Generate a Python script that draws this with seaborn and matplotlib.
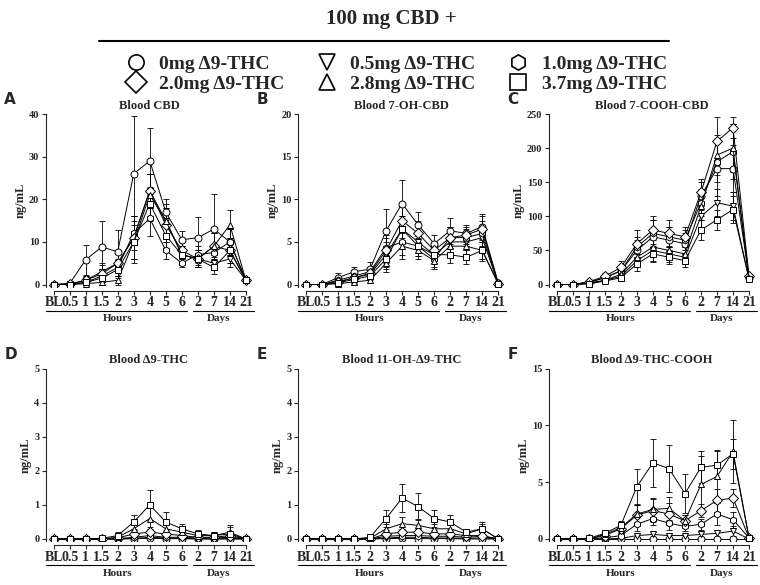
import numpy as np
import pandas as pd
import matplotlib
matplotlib.use("Agg")
import matplotlib.pyplot as plt
import seaborn as sns
from matplotlib.lines import Line2D

sns.set_style("ticks")
plt.rcParams['font.family'] = ['Liberation Serif', 'DejaVu Serif']
plt.rcParams['font.weight'] = 'bold'

timepoints = ["BL", "0.5", "1", "1.5", "2", "3", "4", "5", "6", "2", "7", "14", "21"]
doses = ["0mg Δ9-THC", "0.5mg Δ9-THC", "1.0mg Δ9-THC", "2.0mg Δ9-THC", "2.8mg Δ9-THC", "3.7mg Δ9-THC"]
markers = ["o", "v", "h", "D", "^", "s"]

titles = ["Blood CBD", "Blood 7-OH-CBD", "Blood 7-COOH-CBD",
          "Blood Δ9-THC", "Blood 11-OH-Δ9-THC", "Blood Δ9-THC-COOH"]
letters = ["A", "B", "C", "D", "E", "F"]
ymax = [40, 20, 250, 5, 5, 15]
ystep = [10, 5, 50, 1, 1, 5]

cbd_mean = [
    [0, 0.2, 5.8, 8.8, 7.7, 26, 29, 17, 10.5, 11, 13, 10, 1],
    [0, 0.1, 1, 3, 5, 11, 22, 15, 7, 6, 5, 6, 1],
    [0, 0.1, 0.5, 2, 4, 12, 15.5, 8, 5, 7, 7.5, 10, 1],
    [0, 0.1, 1, 2.5, 5, 11, 22, 14, 8, 6, 9, 8, 1],
    [0, 0, 0.2, 0.5, 1, 10, 21, 15, 7, 6, 9, 14, 1],
    [0, 0, 0.5, 1.5, 3.5, 10, 19, 11.5, 7, 6, 4, 8, 1],
]
cbd_err = [
    [0, 0.2, 3.5, 6, 5, 13.5, 7.8, 3, 2, 4.8, 8.3, 3, 0.3],
    [0, 0.1, 1, 2, 3, 5, 4, 3, 2, 2, 1.5, 2, 0.3],
    [0, 0.1, 0.5, 1.5, 2, 4, 4, 2, 1, 2, 2, 3, 0.3],
    [0, 0.1, 1, 2, 3, 5, 4, 4, 2, 2, 3, 3, 0.3],
    [0, 0, 0.2, 0.5, 1, 5, 5, 4, 2, 2, 3, 3.5, 0.3],
    [0, 0, 0.5, 1, 2, 4, 4, 3, 2, 1.5, 1.5, 3, 0.3],
]
oh_cbd_mean = [
    [0, 0, 0.8, 1.5, 1.8, 6.3, 9.5, 7, 4.8, 6.3, 6, 6.8, 0.2],
    [0, 0, 0.3, 0.8, 1.2, 3.5, 6.5, 5, 3.5, 5, 5, 5.5, 0.1],
    [0, 0, 0.5, 1, 1.5, 4.3, 5, 4.5, 3, 5.5, 5.5, 6, 0.1],
    [0, 0, 0.3, 0.8, 1.3, 4, 7.5, 6, 4, 5.5, 5.8, 6.5, 0.1],
    [0, 0, 0.1, 0.3, 0.5, 2.5, 4.5, 4, 2.8, 4.5, 4.5, 4, 0.1],
    [0, 0, 0.2, 0.6, 1, 3, 6.5, 4.5, 3.5, 3.5, 3.2, 4, 0.1],
]
oh_cbd_err = [
    [0, 0, 0.5, 0.6, 0.8, 2.6, 2.8, 1.5, 1, 1.5, 1, 1.5, 0.1],
    [0, 0, 0.2, 0.5, 0.6, 1.5, 1.5, 1.2, 1, 1.2, 1, 1.5, 0.1],
    [0, 0, 0.3, 0.5, 0.6, 1.5, 1.5, 1.2, 1, 1.2, 1, 1.5, 0.1],
    [0, 0, 0.2, 0.5, 0.6, 1.5, 2, 1.5, 1, 1.2, 1, 1.5, 0.1],
    [0, 0, 0.1, 0.2, 0.3, 1, 1.5, 1, 1, 1, 1, 1, 0.1],
    [0, 0, 0.1, 0.4, 0.5, 1.2, 1.5, 1.2, 1, 1, 0.8, 1.2, 0.1],
]
cooh_cbd_mean = [
    [0, 0, 3, 10, 20, 50, 70, 65, 60, 130, 170, 170, 10],
    [0, 0, 2, 6, 12, 35, 50, 45, 40, 100, 120, 115, 8],
    [0, 0, 3, 10, 20, 55, 75, 70, 65, 120, 180, 195, 10],
    [0, 0, 4, 12, 25, 60, 80, 75, 70, 135, 210, 230, 12],
    [0, 0, 2, 6, 15, 40, 55, 50, 45, 115, 190, 200, 10],
    [0, 0, 1, 5, 10, 30, 45, 40, 35, 80, 95, 110, 8],
]
cooh_cbd_err = [
    [0, 0, 2, 5, 8, 15, 25, 20, 15, 20, 40, 35, 3],
    [0, 0, 1, 3, 5, 10, 15, 12, 10, 15, 20, 20, 3],
    [0, 0, 2, 5, 8, 15, 20, 15, 15, 20, 30, 40, 3],
    [0, 0, 2, 5, 10, 20, 20, 20, 15, 20, 35, 15, 3],
    [0, 0, 1, 3, 6, 12, 15, 12, 10, 20, 30, 35, 3],
    [0, 0, 1, 3, 5, 10, 12, 10, 10, 15, 15, 20, 3],
]
thc_mean = [
    [0, 0, 0, 0, 0, 0.01, 0.02, 0.01, 0.01, 0, 0, 0, 0],
    [0, 0, 0, 0, 0, 0.02, 0.05, 0.03, 0.02, 0.01, 0.01, 0.01, 0],
    [0, 0, 0, 0, 0.01, 0.05, 0.1, 0.05, 0.05, 0.03, 0.03, 0.05, 0],
    [0, 0, 0, 0, 0.03, 0.15, 0.2, 0.15, 0.1, 0.05, 0.05, 0.1, 0],
    [0, 0, 0, 0, 0.05, 0.3, 0.6, 0.3, 0.2, 0.1, 0.1, 0.2, 0],
    [0, 0, 0, 0.02, 0.1, 0.5, 1.0, 0.5, 0.3, 0.15, 0.1, 0.15, 0],
]
thc_err = [
    [0, 0, 0, 0, 0, 0.01, 0.02, 0.01, 0.01, 0, 0, 0, 0],
    [0, 0, 0, 0, 0, 0.02, 0.05, 0.03, 0.02, 0.01, 0.01, 0.01, 0],
    [0, 0, 0, 0, 0.01, 0.05, 0.1, 0.05, 0.05, 0.03, 0.03, 0.05, 0],
    [0, 0, 0, 0, 0.03, 0.1, 0.15, 0.1, 0.1, 0.05, 0.05, 0.1, 0],
    [0, 0, 0, 0, 0.05, 0.2, 0.3, 0.2, 0.1, 0.1, 0.1, 0.2, 0],
    [0, 0, 0, 0.02, 0.1, 0.2, 0.45, 0.3, 0.15, 0.1, 0.1, 0.2, 0],
]
oh_thc_mean = [
    [0, 0, 0, 0, 0, 0.01, 0.02, 0.01, 0.01, 0.01, 0, 0, 0],
    [0, 0, 0, 0, 0, 0.03, 0.05, 0.05, 0.03, 0.03, 0.02, 0.03, 0],
    [0, 0, 0, 0, 0, 0.08, 0.1, 0.1, 0.08, 0.08, 0.05, 0.08, 0],
    [0, 0, 0, 0, 0, 0.15, 0.2, 0.2, 0.15, 0.15, 0.1, 0.1, 0],
    [0, 0, 0, 0, 0.02, 0.3, 0.45, 0.4, 0.3, 0.3, 0.15, 0.3, 0],
    [0, 0, 0, 0, 0.05, 0.6, 1.2, 0.95, 0.6, 0.5, 0.2, 0.3, 0],
]
oh_thc_err = [
    [0, 0, 0, 0, 0, 0.01, 0.02, 0.01, 0.01, 0.01, 0, 0, 0],
    [0, 0, 0, 0, 0, 0.02, 0.03, 0.03, 0.02, 0.02, 0.02, 0.02, 0],
    [0, 0, 0, 0, 0, 0.05, 0.05, 0.05, 0.05, 0.05, 0.03, 0.05, 0],
    [0, 0, 0, 0, 0, 0.1, 0.1, 0.1, 0.1, 0.1, 0.05, 0.1, 0],
    [0, 0, 0, 0, 0.02, 0.15, 0.2, 0.2, 0.15, 0.15, 0.1, 0.15, 0],
    [0, 0, 0, 0, 0.05, 0.25, 0.4, 0.4, 0.25, 0.2, 0.1, 0.2, 0],
]
thc_cooh_mean = [
    [0, 0, 0, 0, 0, 0, 0, 0, 0, 0, 0, 0, 0],
    [0, 0, 0, 0, 0.05, 0.3, 0.4, 0.3, 0.3, 0.4, 0.5, 0.7, 0],
    [0, 0, 0, 0.1, 0.3, 1.3, 1.8, 1.4, 1.1, 1.3, 2.2, 1.7, 0.1],
    [0, 0, 0, 0.3, 0.9, 2.1, 2.5, 2.2, 1.6, 2.5, 3.4, 3.6, 0.1],
    [0, 0, 0, 0.4, 1.0, 2.2, 2.6, 2.7, 1.6, 4.8, 5.5, 7.7, 0.1],
    [0, 0, 0.05, 0.5, 1.2, 4.6, 6.7, 6.2, 4.0, 6.3, 6.5, 7.5, 0.1],
]
thc_cooh_err = [
    [0, 0, 0, 0, 0, 0, 0, 0, 0, 0, 0, 0, 0],
    [0, 0, 0, 0, 0.05, 0.2, 0.2, 0.2, 0.2, 0.2, 0.3, 0.4, 0],
    [0, 0, 0, 0.1, 0.2, 0.6, 0.6, 0.6, 0.4, 0.5, 1.0, 0.7, 0.1],
    [0, 0, 0, 0.2, 0.4, 0.9, 1.0, 1.0, 0.5, 0.6, 1.0, 0.8, 0.1],
    [0, 0, 0, 0.2, 0.4, 0.9, 1.0, 1.0, 0.5, 2.5, 2.3, 2.8, 0.1],
    [0, 0, 0.05, 0.3, 0.4, 1.6, 2.1, 2.1, 1.7, 1.4, 1.2, 1.3, 0.1],
]

panels_mean = [cbd_mean, oh_cbd_mean, cooh_cbd_mean, thc_mean, oh_thc_mean, thc_cooh_mean]
panels_err = [cbd_err, oh_cbd_err, cooh_cbd_err, thc_err, oh_thc_err, thc_cooh_err]

fig = plt.figure(figsize=(7.6, 5.85), dpi=100)
xs = np.arange(len(timepoints))
lefts = [0.06, 0.392, 0.722]
bottoms = [0.51, 0.075]
w, h = 0.272, 0.295

for p in range(6):
    ax = fig.add_axes([lefts[p % 3], bottoms[p // 3], w, h])
    rows = []
    for s in range(6):
        for i in range(len(timepoints)):
            rows.append({"x": xs[i], "y": panels_mean[p][s][i], "dose": doses[s]})
    df = pd.DataFrame(rows)
    for s in range(6):
        ax.errorbar(xs, panels_mean[p][s], yerr=panels_err[p][s], fmt="none",
                    ecolor="black", elinewidth=0.6, capsize=2.5, capthick=0.6, zorder=1)
    sns.lineplot(data=df, x="x", y="y", hue="dose", style="dose", markers=markers,
                 dashes=False, palette=["black"] * 6, ax=ax, legend=False,
                 linewidth=0.7, markersize=5, markerfacecolor="white",
                 markeredgecolor="black", markeredgewidth=0.7, zorder=3)
    ax.set_xlim(-0.5, 12.4)
    ax.set_ylim(-0.5 * ymax[p] / 40, ymax[p])
    ax.set_yticks(np.arange(0, ymax[p] + 0.01, ystep[p]))
    ax.set_xticks(xs)
    ax.set_xticklabels(timepoints, fontsize=7, fontweight="bold")
    ax.tick_params(axis="y", labelsize=7.5, length=3, width=0.8, pad=1.5)
    ax.tick_params(axis="x", length=3, width=0.8, pad=1)
    for lab in ax.get_yticklabels():
        lab.set_fontweight("bold")
    sns.despine(ax=ax)
    ax.spines["bottom"].set_bounds(0, 12)
    ax.spines["bottom"].set_position(("outward", 3))
    ax.set_xlabel("")
    ax.set_ylabel("ng/mL", fontsize=9, fontweight="bold", labelpad=2)
    ax.set_title(titles[p], fontsize=9, fontweight="bold", pad=4)
    ax.text(-0.2, 1.04, letters[p], transform=ax.transAxes, fontsize=11,
            fontweight="bold", family="DejaVu Sans", va="bottom")
    trans = ax.get_xaxis_transform()
    ax.plot([-0.5, 8.3], [-0.14, -0.14], color="black", lw=0.8, transform=trans, clip_on=False)
    ax.plot([8.7, 12.5], [-0.14, -0.14], color="black", lw=0.8, transform=trans, clip_on=False)
    ax.text(4, -0.16, "Hours", transform=trans, ha="center", va="top", fontsize=8, fontweight="bold")
    ax.text(10.3, -0.16, "Days", transform=trans, ha="center", va="top", fontsize=8, fontweight="bold")

fig.text(0.515, 0.985, "100 mg CBD +", ha="center", va="top", fontsize=15, fontweight="bold")
fig.add_artist(Line2D([0.13, 0.88], [0.93, 0.93], color="black", lw=1.5))
handles = [Line2D([], [], marker=m, color="black", linestyle="none", markersize=11,
                  markerfacecolor="white", markeredgewidth=1.2) for m in markers]
order = [0, 3, 1, 4, 2, 5]
fig.legend([handles[i] for i in order], [doses[i] for i in order], loc="upper center",
           bbox_to_anchor=(0.515, 0.935), ncol=3, frameon=False,
           prop={"size": 14, "weight": "bold"}, handletextpad=0.2, columnspacing=1.2,
           labelspacing=0.1)
fig.savefig("out.png", dpi=100)
